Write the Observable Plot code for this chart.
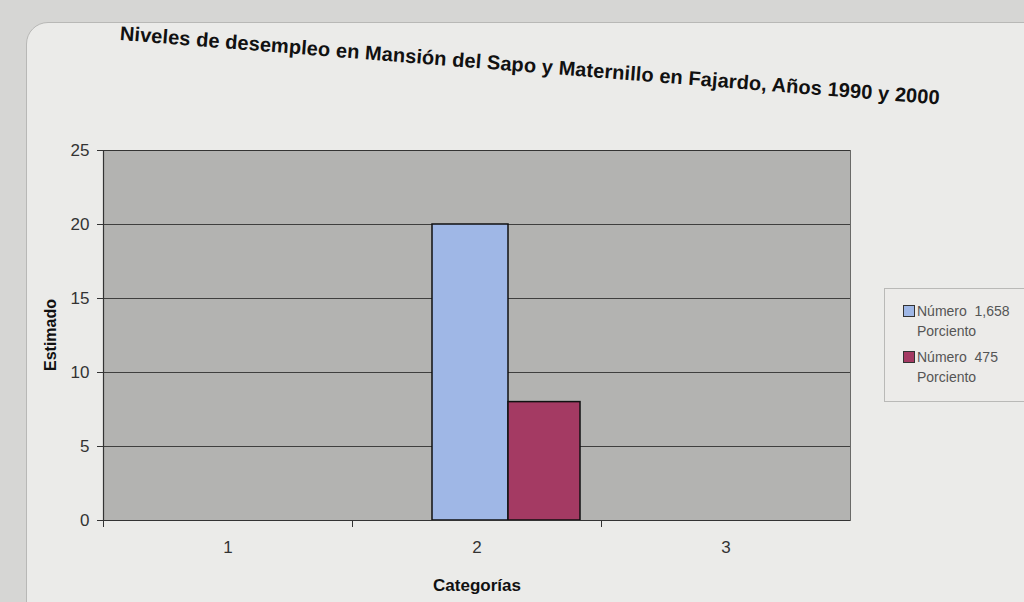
<!DOCTYPE html>
<html>
<head>
<meta charset="utf-8">
<script src="https://cdn.jsdelivr.net/npm/d3@7"></script>
<script src="https://cdn.jsdelivr.net/npm/@observablehq/plot@0.6"></script>
<style>
  html, body { margin: 0; padding: 0; }
  body { width: 1024px; height: 602px; background: #d6d6d4; position: relative; overflow: hidden; font-family: "Liberation Sans", Arial, sans-serif; }
  #sheet { position: absolute; left: 26px; top: 22px; width: 1040px; height: 620px; background: #ebebe9; border: 1px solid #b8b8b6; border-radius: 22px; }
  #title { position: absolute; left: 120px; top: 22px; font-weight: bold; font-size: 20px; color: #111; transform: rotate(4.5deg); transform-origin: left center; white-space: nowrap; letter-spacing: 0.1px; }
  #chart { position: absolute; left: 0; top: 130px; }
  #chart g[aria-label="x-axis label"] text { font-weight: bold; font-size: 17px; fill: #111; }
  #ylabel { position: absolute; left: 51px; top: 335px; font-weight: bold; font-size: 16px; color: #111; transform: translate(-50%, -50%) rotate(-90deg); white-space: nowrap; }
  #legend { position: absolute; left: 884px; top: 288px; width: 150px; height: 112px; border: 1px solid #b9b9b7; background: #ecebe9; font-size: 14px; color: #555; }
  .item { position: absolute; left: 18px; line-height: 20px; }
  .sw { display: inline-block; width: 10px; height: 10px; border: 1px solid #333; margin-right: 2px; vertical-align: -1px; }
  .sub { padding-left: 14px; }
</style>
</head>
<body>
<div id="sheet"></div>
<div id="title"></div>
<div id="chart"></div>
<div id="ylabel"></div>
<div id="legend"></div>
<script>
const title = "Niveles de desempleo en Mansión del Sapo y Maternillo en Fajardo, Años 1990 y 2000";
const yLabel = "Estimado";
const xLabel = "Categorías";
const categories = ["1", "2", "3"];
const seriesNames = ["Número  1,658", "Número  475"];
const seriesSub = ["Porciento", "Porciento"];
const serieA = [0, 20, 0];
const serieB = [0, 8, 0];
const seriesColors = ["#9fb7e6", "#a43a63"];
const yTicks = [0, 5, 10, 15, 20, 25];

document.getElementById("title").textContent = title;
document.getElementById("ylabel").textContent = yLabel;

const dataA = categories.map((c, i) => ({cat: c, value: serieA[i]}));
const dataB = categories.map((c, i) => ({cat: c, value: serieB[i]}));

const W = 880, H = 470, mL = 103, mR = 30;
const band = (W - mL - mR) / 3;

const chart = Plot.plot({
  width: W,
  height: H,
  marginLeft: mL,
  marginRight: mR,
  marginTop: 20,
  marginBottom: 80,
  style: {background: "transparent", fontFamily: "Liberation Sans, Arial, sans-serif", fontSize: "16px", color: "#333"},
  x: {domain: categories, padding: 0},
  y: {domain: [0, 25], ticks: yTicks},
  marks: [
    Plot.frame({fill: "#b3b3b1", stroke: "#6a6a68"}),
    Plot.gridY(yTicks, {stroke: "#2a2a2a", strokeOpacity: 0.85, strokeWidth: 1}),
    Plot.barY(dataA, {x: "cat", y: "value", filter: d => d.value > 0, fill: seriesColors[0], stroke: "#111", strokeWidth: 1.5, insetLeft: 80, insetRight: band - 156}),
    Plot.barY(dataB, {x: "cat", y: "value", filter: d => d.value > 0, fill: seriesColors[1], stroke: "#111", strokeWidth: 1.5, insetLeft: 156, insetRight: band - 228}),
    Plot.ruleY([0], {stroke: "#333", strokeWidth: 1.2}),
    Plot.ruleX([categories[0]], {stroke: "#333", strokeWidth: 1.2, dx: -band / 2}),
    Plot.axisY({ticks: yTicks, tickSize: 6, tickPadding: 8, fontSize: 17, label: null}),
    Plot.axisX({tickSize: 0, tickPadding: 20, fontSize: 17, label: xLabel, labelAnchor: "center", labelOffset: 70}),
    Plot.axisX({tickSize: 7, tickFormat: () => "", dx: -band / 2, label: null})
  ]
});
document.getElementById("chart").appendChild(chart);

const legend = document.getElementById("legend");
seriesNames.forEach((name, i) => {
  const it = document.createElement("div");
  it.className = "item";
  it.style.top = (12 + i * 46) + "px";
  it.innerHTML = `<span class="sw" style="background:${seriesColors[i]}"></span>${name.replace("  ", "&nbsp;&nbsp;")}<br><span class="sub">${seriesSub[i]}</span>`;
  legend.appendChild(it);
});
</script>
</body>
</html>
